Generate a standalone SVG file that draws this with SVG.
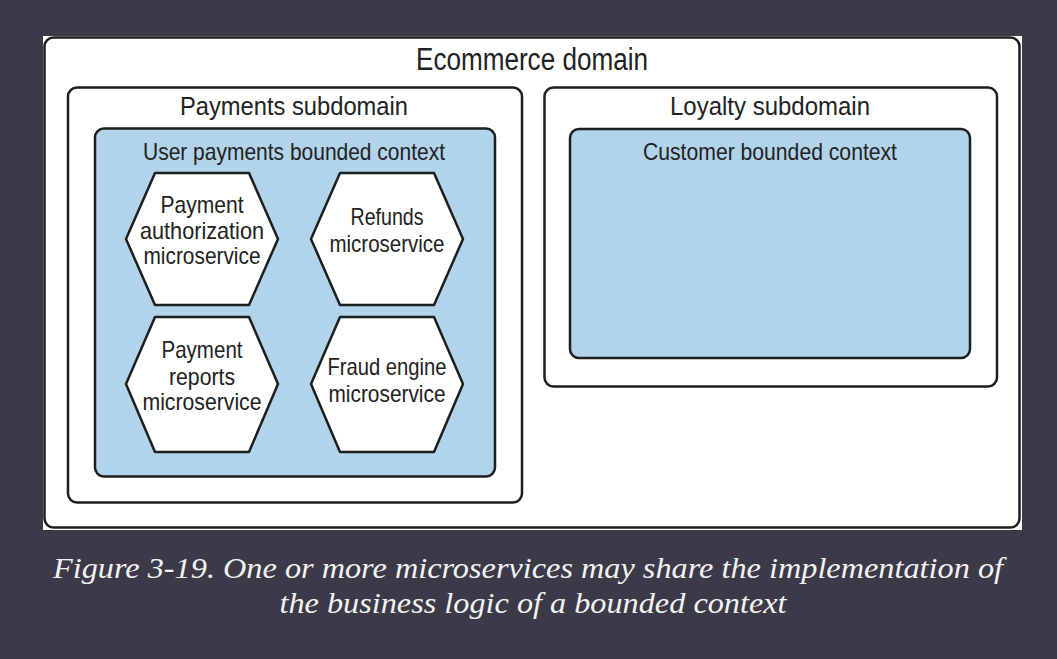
<svg xmlns="http://www.w3.org/2000/svg" width="1057" height="659" viewBox="0 0 1057 659">
<style>
.box{fill:#ffffff;stroke:#1e1e1e;stroke-width:2.5}
.ctx{fill:#b1d4eb;stroke:#1e1e1e;stroke-width:2.5}
.hex{fill:#ffffff;stroke:#1e1e1e;stroke-width:2.5;stroke-linejoin:round}
.t{font-family:"Liberation Sans",Arial,sans-serif;fill:#222222;text-anchor:middle}
.cap{font-family:"Liberation Serif","Times New Roman",serif;font-style:italic;fill:#f2f2f2;text-anchor:middle;font-size:30px}
</style>
<rect x="0" y="0" width="1057" height="659" fill="#3c3a48"/>
<rect x="43" y="36" width="979" height="494" fill="#ffffff"/>
<g id="ecommerce-domain">
<rect class="box" x="44.5" y="37.5" width="975" height="490" rx="9"/>
<text class="t" x="532" y="70" font-size="31" textLength="232" lengthAdjust="spacingAndGlyphs">Ecommerce domain</text>
</g>
<g id="payments-subdomain">
<rect class="box" x="68" y="87.5" width="454" height="415" rx="9"/>
<text class="t" x="294" y="115" font-size="26" textLength="228" lengthAdjust="spacingAndGlyphs">Payments subdomain</text>
</g>
<g id="user-payments-context">
<rect class="ctx" x="95" y="128.5" width="400" height="348" rx="9"/>
<text class="t" x="294" y="160" font-size="24" textLength="302" lengthAdjust="spacingAndGlyphs">User payments bounded context</text>
</g>
<g id="loyalty-subdomain">
<rect class="box" x="544.5" y="87.5" width="452.5" height="299" rx="9"/>
<text class="t" x="770" y="115" font-size="26" textLength="200" lengthAdjust="spacingAndGlyphs">Loyalty subdomain</text>
</g>
<g id="customer-context">
<rect class="ctx" x="570" y="129" width="400" height="229" rx="9"/>
<text class="t" x="770" y="160" font-size="24" textLength="254" lengthAdjust="spacingAndGlyphs">Customer bounded context</text>
</g>
<g id="payment-authorization">
<polygon class="hex" points="155,173 249,173 278,239 249,305 155,305 126,239"/>
<text class="t" x="202" y="213" font-size="24" textLength="83" lengthAdjust="spacingAndGlyphs">Payment</text>
<text class="t" x="202" y="239" font-size="24" textLength="124" lengthAdjust="spacingAndGlyphs">authorization</text>
<text class="t" x="202" y="264" font-size="24" textLength="117" lengthAdjust="spacingAndGlyphs">microservice</text>
</g>
<g id="refunds">
<polygon class="hex" points="340,173 434,173 463,239 434,305 340,305 311,239"/>
<text class="t" x="387" y="225" font-size="24" textLength="73" lengthAdjust="spacingAndGlyphs">Refunds</text>
<text class="t" x="387" y="252" font-size="24" textLength="115" lengthAdjust="spacingAndGlyphs">microservice</text>
</g>
<g id="payment-reports">
<polygon class="hex" points="155,317 249,317 278,384 249,452 155,452 126,384"/>
<text class="t" x="202" y="358" font-size="24" textLength="81" lengthAdjust="spacingAndGlyphs">Payment</text>
<text class="t" x="202" y="385" font-size="24" textLength="66" lengthAdjust="spacingAndGlyphs">reports</text>
<text class="t" x="202" y="410" font-size="24" textLength="119" lengthAdjust="spacingAndGlyphs">microservice</text>
</g>
<g id="fraud-engine">
<polygon class="hex" points="340,317 434,317 463,384 434,452 340,452 311,384"/>
<text class="t" x="387" y="375" font-size="24" textLength="119" lengthAdjust="spacingAndGlyphs">Fraud engine</text>
<text class="t" x="387" y="402" font-size="24" textLength="117" lengthAdjust="spacingAndGlyphs">microservice</text>
</g>
<g id="connectors"></g>
<g id="caption">
<text class="cap" x="528" y="578" textLength="950" lengthAdjust="spacingAndGlyphs">Figure 3-19. One or more microservices may share the implementation of</text>
<text class="cap" x="533" y="613" textLength="507" lengthAdjust="spacingAndGlyphs">the business logic of a bounded context</text>
</g>
</svg>
